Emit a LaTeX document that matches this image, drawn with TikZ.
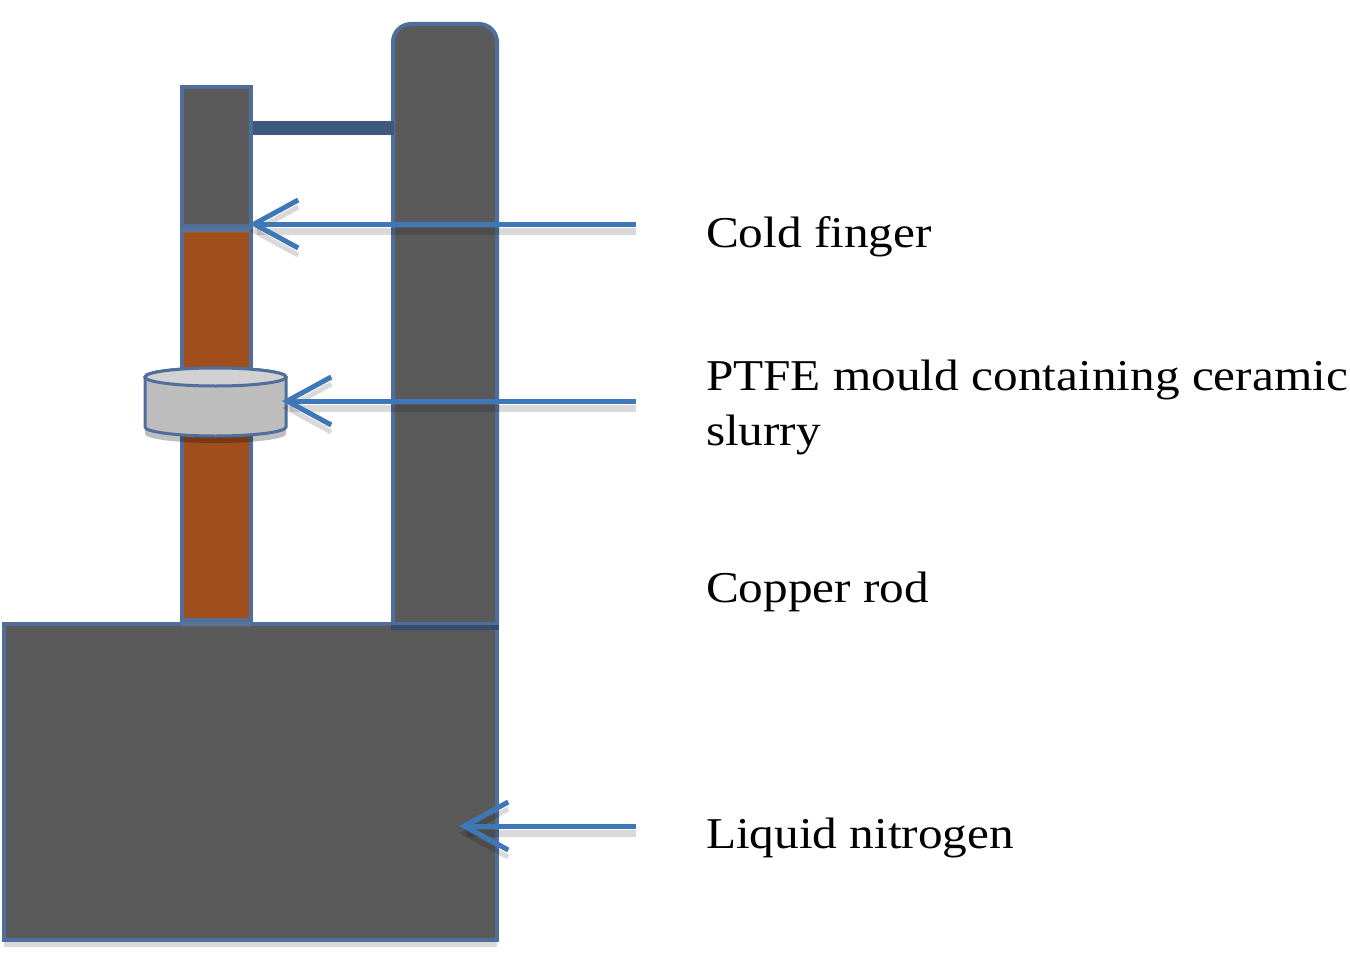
\documentclass[tikz,border=0pt]{standalone}
\usepackage{fontspec}
\setmainfont[FakeStretch=1.12]{Liberation Serif}
\usepackage{xcolor}
\usetikzlibrary{positioning,arrows.meta,shadows}

\definecolor{steel}{HTML}{5A5A5A}
\definecolor{edgeblue}{HTML}{4F6E9C}
\definecolor{copper}{HTML}{A04E1C}
\definecolor{ptfe}{HTML}{BDBDBD}
\definecolor{pointer}{HTML}{3F78B8}

\begin{document}
\begin{tikzpicture}[x=1pt, y=-1pt, node distance=0pt, line width=4pt,
    block/.style={rectangle, draw=edgeblue, inner sep=0pt, drop shadow={shadow xshift=0pt, shadow yshift=-7pt, opacity=.3}},
    callout/.style={anchor=base west, inner sep=0pt, align=left, font=\fontsize{44}{55}\selectfont},
    pointing/.style={draw=pointer, line width=5pt, shorten >=-4pt, -{Straight Barb[length=44pt, width=48pt, line width=5pt]},
        preaction={draw=black, opacity=.15, line width=7pt, transform canvas={yshift=-7pt}}},
    wall/.style={draw=edgeblue, line width=3pt}]

    \useasboundingbox (0,0) rectangle (1350,966);

    % Post and bath
    \node[block, fill=steel, anchor=north west, minimum width=104pt, minimum height=620pt, rounded corners=18pt] (Post) at (391,22) {};
    \node[block, fill=steel, anchor=north west, minimum width=493pt, minimum height=316pt] (Bath) at (2,622) {};
    \draw[edgeblue!70!black, line width=5pt] ([yshift=-5pt]Post.west |- Bath.north) -- ([yshift=-5pt]Bath.north east);

    % Rod
    \node[block, fill=copper, anchor=south west, minimum width=69pt, minimum height=390pt] (Rod) at (180,622) {};
    \node[block, fill=steel, above=0pt of Rod, minimum width=69pt, minimum height=139pt] (Finger) {};
    \node[rectangle, fill=edgeblue!80!black, inner sep=0pt, anchor=west, minimum width=141pt, minimum height=14pt] (Bridge) at ([xshift=-2pt]Finger.east |- 0,128) {};

    % Mould
    \node[inner sep=0pt, outer sep=0pt, minimum width=141pt, minimum height=68pt] (Mould) at (215.5,402) {};
    \path[fill=black, opacity=.25] ([yshift=-7pt]Mould.west) -- ([yshift=2pt]Mould.south west)
        arc[start angle=180, end angle=360, x radius=70.5pt, y radius=9pt] -- ([yshift=-7pt]Mould.east) -- cycle;
    \draw[wall, fill=ptfe] ([yshift=-9pt]Mould.north west) -- ([yshift=9pt]Mould.south west)
        arc[start angle=180, end angle=360, x radius=70.5pt, y radius=9pt] -- ([yshift=-9pt]Mould.north east)
        arc[start angle=0, end angle=180, x radius=70.5pt, y radius=9pt] -- cycle;
    \draw[wall, fill=ptfe!70!white] ([yshift=-9pt]Mould.north west)
        arc[start angle=180, end angle=540, x radius=70.5pt, y radius=9pt] -- cycle;

    % Labels
    \node[callout] (ColdLabel) at (704,247) {Cold finger};
    \node[callout] (MouldLabel) at (704,445) {PTFE mould containing ceramic\\slurry};
    \node[callout] (CopperLabel) at (704,602) {Copper rod};
    \node[callout] (NitrogenLabel) at (704,848) {Liquid nitrogen};

    % Pointers
    \coordinate (ColdStart) at (636,224);
    \coordinate (MouldStart) at (636,401);
    \coordinate (NitrogenStart) at (636,826);
    \coordinate (NitrogenTip) at (463,826);
    \draw[pointing] (ColdStart) -- (ColdStart -| Finger.east);
    \draw[pointing] (MouldStart) -- (MouldStart -| Mould.east);
    \draw[pointing] (NitrogenStart) -- (NitrogenTip);
\end{tikzpicture}
\end{document}
